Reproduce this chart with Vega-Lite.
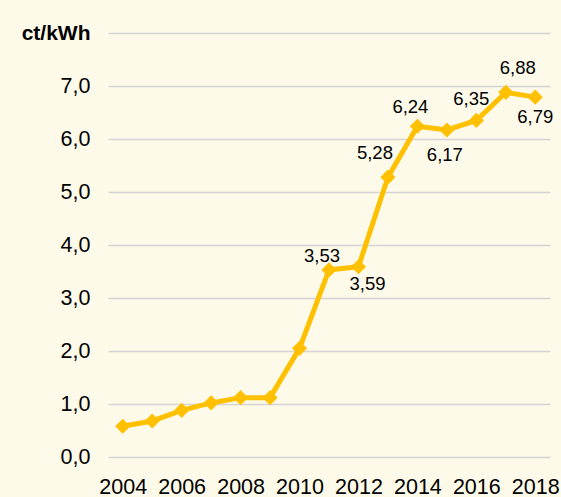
{
  "$schema": "https://vega.github.io/schema/vega-lite/v6.json",
  "autosize": {"type": "none"},
  "width": 442,
  "height": 424,
  "padding": {"left": 108, "top": 33, "right": 11, "bottom": 40},
  "background": "#FEFAE9",
  "config": {"view": {"stroke": null}, "font": "Liberation Sans"},
  "data": {"values": [
    {"year": 2004, "v": 0.58},
    {"year": 2005, "v": 0.68},
    {"year": 2006, "v": 0.88},
    {"year": 2007, "v": 1.02},
    {"year": 2008, "v": 1.12},
    {"year": 2009, "v": 1.12},
    {"year": 2010, "v": 2.05},
    {"year": 2011, "v": 3.53},
    {"year": 2012, "v": 3.59},
    {"year": 2013, "v": 5.28},
    {"year": 2014, "v": 6.24},
    {"year": 2015, "v": 6.17},
    {"year": 2016, "v": 6.35},
    {"year": 2017, "v": 6.88},
    {"year": 2018, "v": 6.79}
  ]},
  "transform": [{"calculate": "replace(format(datum.v, '.2f'), '.', ',')", "as": "lab"}],
  "encoding": {
    "x": {"field": "year", "type": "quantitative",
      "scale": {"domain": [2003.5, 2018.5], "nice": false, "zero": false},
      "axis": {"values": [2004, 2006, 2008, 2010, 2012, 2014, 2016, 2018], "format": "d", "grid": false, "domain": false, "ticks": false,
        "labelFontSize": 21.5, "labelColor": "#000000", "labelPadding": 19, "title": null, "labelFlush": false}},
    "y": {"field": "v", "type": "quantitative",
      "scale": {"domain": [0, 8], "nice": false},
      "axis": {"values": [0, 1, 2, 3, 4, 5, 6, 7, 8], "domain": false, "ticks": false, "gridColor": "#D4D4D4", "gridWidth": 1.5,
        "labelExpr": "datum.value == 8 ? 'ct/kWh' : replace(format(datum.value, '.1f'), '.', ',')",
        "labelFontWeight": {"condition": {"test": "datum.value == 8", "value": "bold"}, "value": "normal"},
        "labelFontSize": {"condition": {"test": "datum.value == 8", "value": 21}, "value": 21.5},
        "labelColor": "#000000", "labelPadding": 18, "title": null}}
  },
  "layer": [
    {"mark": {"type": "line", "color": "#FFC000", "strokeWidth": 5}},
    {"mark": {"type": "point", "shape": "diamond", "filled": true, "opacity": 1, "color": "#FFC000", "size": 230}},
    {"transform": [{"filter": "datum.year == 2011"}], "mark": {"type": "text", "fontSize": 18.5, "dx": -7, "dy": -14, "baseline": "middle"}, "encoding": {"text": {"field": "lab"}}},
    {"transform": [{"filter": "datum.year == 2012"}], "mark": {"type": "text", "fontSize": 18.5, "dx": 9, "dy": 17, "baseline": "middle"}, "encoding": {"text": {"field": "lab"}}},
    {"transform": [{"filter": "datum.year == 2013"}], "mark": {"type": "text", "fontSize": 18.5, "dx": -13, "dy": -24, "baseline": "middle"}, "encoding": {"text": {"field": "lab"}}},
    {"transform": [{"filter": "datum.year == 2014"}], "mark": {"type": "text", "fontSize": 18.5, "dx": -7, "dy": -19, "baseline": "middle"}, "encoding": {"text": {"field": "lab"}}},
    {"transform": [{"filter": "datum.year == 2015"}], "mark": {"type": "text", "fontSize": 18.5, "dx": -2, "dy": 25, "baseline": "middle"}, "encoding": {"text": {"field": "lab"}}},
    {"transform": [{"filter": "datum.year == 2016"}], "mark": {"type": "text", "fontSize": 18.5, "dx": -5, "dy": -21, "baseline": "middle"}, "encoding": {"text": {"field": "lab"}}},
    {"transform": [{"filter": "datum.year == 2017"}], "mark": {"type": "text", "fontSize": 18.5, "dx": 12, "dy": -24, "baseline": "middle"}, "encoding": {"text": {"field": "lab"}}},
    {"transform": [{"filter": "datum.year == 2018"}], "mark": {"type": "text", "fontSize": 18.5, "dx": 0, "dy": 20, "baseline": "middle"}, "encoding": {"text": {"field": "lab"}}}
  ]
}
